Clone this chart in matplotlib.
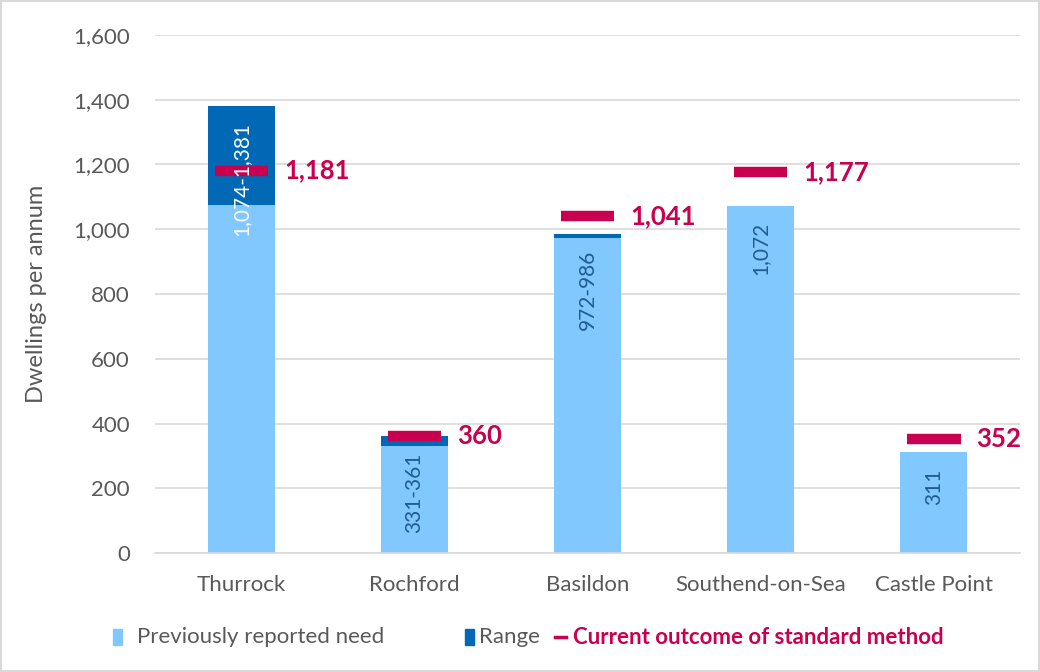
import matplotlib.pyplot as plt
from matplotlib.patches import Rectangle
from matplotlib.lines import Line2D

plt.rcParams['font.family'] = ['Lato', 'DejaVu Sans']

areas = ["Thurrock", "Rochford", "Basildon", "Southend-on-Sea", "Castle Point"]
prev_need = [1074, 331, 972, 1072, 311]
range_top = [1381, 361, 986, 1072, 311]
current = [1181, 360, 1041, 1177, 352]
bar_labels = ["1,074-1,381", "331-361", "972-986", "1,072", "311"]
current_labels = ["1,181", "360", "1,041", "1,177", "352"]

light_blue = "#80C8FF"
dark_blue = "#0068B4"
red = "#C8004F"
grey = "#595959"

fig = plt.figure(figsize=(10.4, 6.72), dpi=100)
fig.patch.set_edgecolor("#D9D9D9")
fig.patch.set_linewidth(1.5)
ax = fig.add_axes([0.149, 0.177, 0.832, 0.771])

x = list(range(len(areas)))
width = 0.39
rng = [t - p for t, p in zip(range_top, prev_need)]
ax.bar(x, prev_need, width, color=light_blue, zorder=2)
ax.bar(x, rng, width, bottom=prev_need, color=dark_blue, zorder=2)
ax.hlines(current, [i - 0.155 for i in x], [i + 0.155 for i in x],
          color=red, linewidth=7.5, zorder=4)

for i in x:
    col = "white" if i == 0 else "#1F5C99"
    ax.text(i, range_top[i] - 50, bar_labels[i], rotation=90, ha="center",
            va="top", fontsize=15, color=col, zorder=5)
    ax.text(i + 0.245, current[i], current_labels[i], ha="left", va="center",
            fontsize=18.5, fontweight="bold", color=red, zorder=5)

ax.set_ylim(0, 1600)
ax.set_xlim(-0.5, 4.5)
ax.set_yticks(range(0, 1601, 200))
ax.set_yticklabels([f"{v:,}" for v in range(0, 1601, 200)])
ax.set_xticks(x)
ax.set_xticklabels(areas)
ax.tick_params(axis="both", length=0, labelsize=16, labelcolor=grey)
ax.tick_params(axis="x", pad=16)
ax.tick_params(axis="y", pad=18)
ax.yaxis.grid(True, color="#D9D9D9", linewidth=1.2, zorder=0)
ax.set_axisbelow(True)
for s in ["top", "right", "left"]:
    ax.spines[s].set_visible(False)
ax.spines["bottom"].set_color("#D9D9D9")
ax.spines["bottom"].set_linewidth(1.2)
ax.set_ylabel("Dwellings per annum", fontsize=17, color=grey)
ax.yaxis.set_label_coords(-0.125, 0.5)

# legend drawn by hand to match spacing
ly = 1 - 637 / 672
W, H = 1040, 672
fig.add_artist(Rectangle((113 / W, ly - 8 / H), 9 / W, 16 / H,
                         transform=fig.transFigure, color=light_blue))
fig.text(137 / W, ly, "Previously reported need", fontsize=16, color=grey,
         va="center", ha="left")
fig.add_artist(Rectangle((465 / W, ly - 8 / H), 9 / W, 16 / H,
                         transform=fig.transFigure, color=dark_blue))
fig.text(479 / W, ly, "Range", fontsize=16, color=grey, va="center", ha="left")
fig.add_artist(Line2D([555 / W, 566 / W], [ly, ly], transform=fig.transFigure,
                      color=red, linewidth=2.5))
fig.text(573 / W, ly, "Current outcome of standard method", fontsize=16,
         color=red, fontweight="bold", va="center", ha="left")

fig.savefig("out.png", dpi=100)
